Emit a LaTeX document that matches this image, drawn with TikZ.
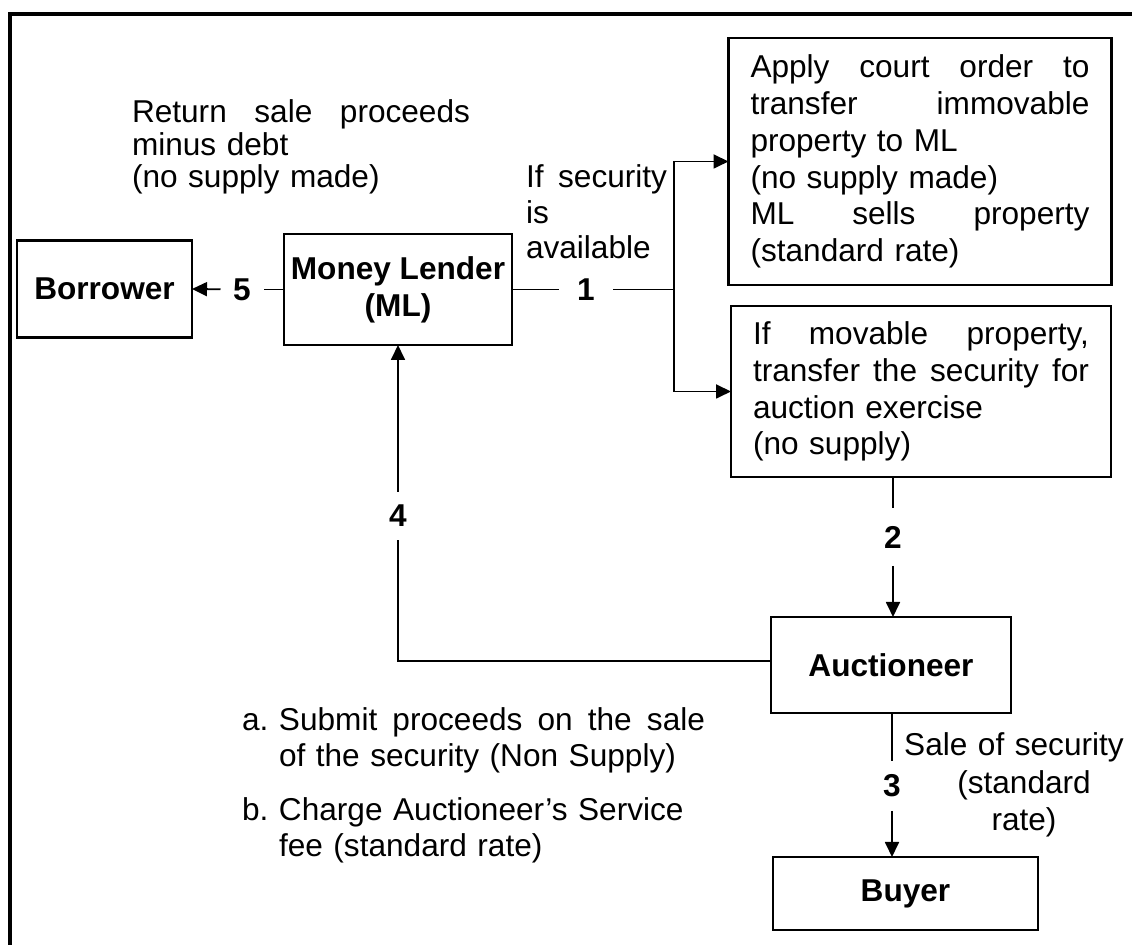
\documentclass[tikz,border=0pt]{standalone}
\usepackage{fontspec}
\setmainfont{Liberation Sans}
\usetikzlibrary{arrows.meta}
\newcommand{\myjust}[2]{\leavevmode\hbox to #1{#2}}
\begin{document}
\begin{tikzpicture}[x=0.5pt,y=-0.5pt,
  every node/.style={inner sep=0pt, outer sep=0pt},
  fnt/.style={font=\fontsize{15.8}{#1}\selectfont},
  box/.style={draw, line width=1.1pt},
  lbl/.style={font=\fontsize{15.8}{18.5}\selectfont\bfseries},
  conn/.style={line width=0.9pt},
  arr/.style={conn, -{Triangle[length=7.5pt,width=7pt]}}
]
\useasboundingbox (0,0) rectangle (1132,945);
% outer frame (right and bottom edges fall outside the picture)
\draw[line width=1.6pt] (10,970) -- (10,14) -- (1160,14);

% boxes
\node[box, lbl, minimum width=87.5pt, minimum height=48.5pt] (bor) at (104.5,289) {Borrower};
\node[box, lbl, align=center, minimum width=114pt, minimum height=55.5pt] (ml) at (398,289.5) {Money Lender\\(ML)};
\node[box, fnt=18.4, text width=169.5pt, inner xsep=11pt, minimum height=123.5pt] (court) at (920,161.5)
  {\myjust{169.5pt}{Apply\hfill court\hfill order\hfill to}\\
   \myjust{169.5pt}{transfer\hfill immovable}\\
   property to ML\\
   (no supply made)\\
   \myjust{169.5pt}{ML\hfill sells\hfill property}\\
   (standard rate)};
\node[box, fnt=18.35, text width=168pt, inner xsep=11pt, minimum height=85.5pt] (mov) at (921,391.5)
  {\myjust{168pt}{If\hfill movable\hfill property,}\\
   \myjust{168pt}{transfer\hfill the\hfill security\hfill for}\\
   auction exercise\\
   (no supply)};
\node[box, lbl, minimum width=120pt, minimum height=48pt] (auct) at (891,665) {Auctioneer};
\node[box, lbl, minimum width=132.5pt, minimum height=36.5pt] (buyer) at (905.5,893.5) {Buyer};

% free texts
\node[fnt=16.25, text width=169pt, anchor=base west] (ret) at (132,123)
  {\myjust{169pt}{Return\hfill sale\hfill proceeds}\\minus debt\\(no supply made)};
\node[fnt=17.75, text width=70.5pt, anchor=base west] (ifsec) at (526,188)
  {\myjust{70.5pt}{If\hfill security}\\is\\available};
\node[fnt=18, text width=232pt, anchor=base west] (list) at (242,731)
  {\makebox[18.5pt][l]{a.}\hbox to 213pt{Submit\hfill proceeds\hfill on\hfill the\hfill sale}\\
   \hspace*{18.5pt}of the security (Non Supply)\\[9pt]
   \makebox[18.5pt][l]{b.}Charge Auctioneer’s Service\\
   \hspace*{18.5pt}fee (standard rate)};
\node[fnt=18.75, text width=110pt, align=center, anchor=base] (sale) at (1014,756)
  {Sale of security\\\hspace*{10pt}(standard\\\hspace*{10pt}rate)};

% connector labels
\node[lbl, minimum width=21.5pt] (l5) at (242,289.5) {5};
\node[lbl, minimum width=27pt] (l1) at (586,289.5) {1};
\node[lbl, minimum height=29pt] (l2) at (893,537) {2};
\node[lbl, minimum height=24pt] (l4) at (398,516) {4};
\node[lbl, minimum height=25pt] (l3) at (892,786) {3};
\coordinate (j) at (674,289.5);

% connectors
\draw[conn] (ml.west) -- (l5);
\draw[arr] (l5) -- (bor.east);
\draw[conn] (ml.east) -- (l1);
\draw[conn] (l1) -- (j);
\draw[arr] (j) |- (court.west);
\draw[arr] (j) |- (mov.west);
\draw[conn] (mov.south -| l2) -- (l2);
\draw[arr] (l2) -- (auct.north -| l2);
\draw[conn] ([yshift=2pt]auct.west) -| (l4);
\draw[arr] (l4) -- (ml.south);
\draw[conn] (auct.south -| l3) -- (l3);
\draw[arr] (l3) -- (buyer.north -| l3);
\end{tikzpicture}
\end{document}
